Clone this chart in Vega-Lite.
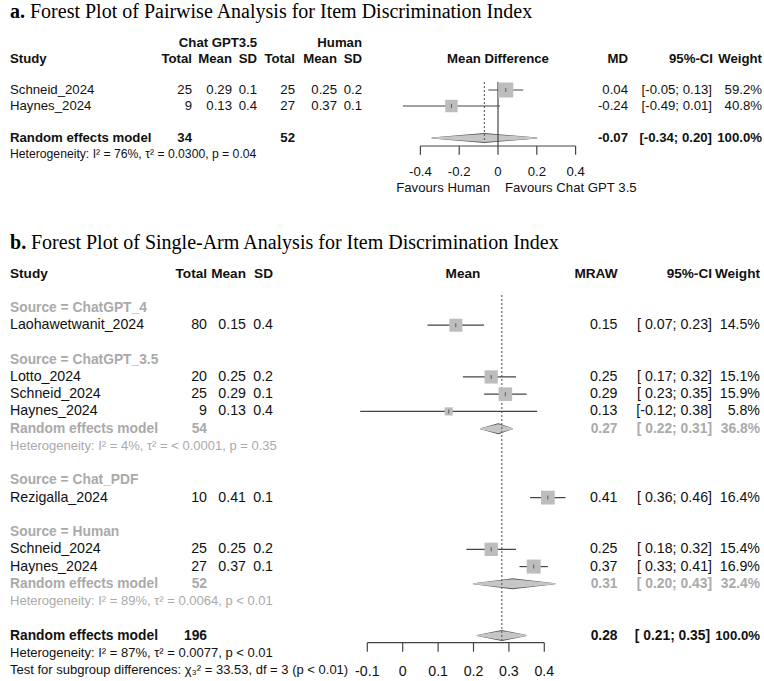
{
"$schema": "https://vega.github.io/schema/vega-lite/v6.json",
"padding": 0,
"spacing": 0,
"bounds": "flush",
"config": {
  "view": {"stroke": null},
  "locale": {"number": {"decimal": ".", "thousands": ",", "grouping": [3], "currency": ["$", ""], "minus": "-"}},
  "text": {"font": "Liberation Sans", "fontSize": 13.2, "baseline": "middle", "color": "#111"}
},
"datasets": {
  "aStudies": [
    {"study": "Schneid_2024", "row": 2, "n1": 25, "m1": 0.29, "s1": 0.1, "n2": 25, "m2": 0.25, "s2": 0.2, "md": 0.04, "lo": -0.05, "hi": 0.13, "w": 59.2},
    {"study": "Haynes_2024", "row": 3, "n1": 9, "m1": 0.13, "s1": 0.4, "n2": 27, "m2": 0.37, "s2": 0.1, "md": -0.24, "lo": -0.49, "hi": 0.01, "w": 40.8}
  ],
  "aRE": [
    {"label": "Random effects model", "row": 5, "n1": 34, "n2": 52, "md": -0.07, "lo": -0.34, "hi": 0.2, "w": 100}
  ],
  "aDiamond": [
    {"d": "all", "row": 5, "x": -0.34, "k": 0},
    {"d": "all", "row": 5, "x": -0.07, "k": 1},
    {"d": "all", "row": 5, "x": 0.2, "k": 0}
  ],
  "aTicks": [{"v": -0.4}, {"v": -0.2}, {"v": 0}, {"v": 0.2}, {"v": 0.4}],
  "bStudies": [
    {"study": "Laohawetwanit_2024", "row": 3, "n": 80, "m": 0.15, "s": 0.4, "lo": 0.07, "hi": 0.23, "w": 14.5},
    {"study": "Lotto_2024", "row": 6, "n": 20, "m": 0.25, "s": 0.2, "lo": 0.17, "hi": 0.32, "w": 15.1},
    {"study": "Schneid_2024", "row": 7, "n": 25, "m": 0.29, "s": 0.1, "lo": 0.23, "hi": 0.35, "w": 15.9},
    {"study": "Haynes_2024", "row": 8, "n": 9, "m": 0.13, "s": 0.4, "lo": -0.12, "hi": 0.38, "w": 5.8},
    {"study": "Rezigalla_2024", "row": 13, "n": 10, "m": 0.41, "s": 0.1, "lo": 0.36, "hi": 0.46, "w": 16.4},
    {"study": "Schneid_2024", "row": 16, "n": 25, "m": 0.25, "s": 0.2, "lo": 0.18, "hi": 0.32, "w": 15.4},
    {"study": "Haynes_2024", "row": 17, "n": 27, "m": 0.37, "s": 0.1, "lo": 0.33, "hi": 0.41, "w": 16.9}
  ],
  "bGroups": [
    {"row": 2, "t": "Source = ChatGPT_4"},
    {"row": 5, "t": "Source = ChatGPT_3.5"},
    {"row": 12, "t": "Source = Chat_PDF"},
    {"row": 15, "t": "Source = Human"}
  ],
  "bSubRE": [
    {"row": 9, "label": "Random effects model", "n": 54, "est": 0.27, "lo": 0.22, "hi": 0.31, "w": 36.8},
    {"row": 18, "label": "Random effects model", "n": 52, "est": 0.31, "lo": 0.2, "hi": 0.43, "w": 32.4}
  ],
  "bSubHet": [
    {"row": 10, "t": "Heterogeneity: I² = 4%, τ² = < 0.0001, p = 0.35"},
    {"row": 19, "t": "Heterogeneity: I² = 89%, τ² = 0.0064, p < 0.01"}
  ],
  "bAll": [
    {"row": 21, "label": "Random effects model", "n": 196, "est": 0.28, "lo": 0.21, "hi": 0.35, "w": 100}
  ],
  "bHet": [
    {"row": 22, "t": "Heterogeneity: I² = 87%, τ² = 0.0077, p < 0.01"},
    {"row": 23, "t": "Test for subgroup differences: χ₃² = 33.53, df = 3 (p < 0.01)"}
  ],
  "bDiamond": [
    {"d": "g35", "row": 9, "x": 0.22, "k": 0},
    {"d": "g35", "row": 9, "x": 0.27, "k": 1},
    {"d": "g35", "row": 9, "x": 0.31, "k": 0},
    {"d": "gh", "row": 18, "x": 0.2, "k": 0},
    {"d": "gh", "row": 18, "x": 0.31, "k": 1},
    {"d": "gh", "row": 18, "x": 0.43, "k": 0},
    {"d": "all", "row": 21, "x": 0.21, "k": 0},
    {"d": "all", "row": 21, "x": 0.28, "k": 1},
    {"d": "all", "row": 21, "x": 0.35, "k": 0}
  ],
  "bTicks": [{"v": -0.1}, {"v": 0}, {"v": 0.1}, {"v": 0.2}, {"v": 0.3}, {"v": 0.4}]
},
"vconcat": [
{
  "width": 764, "height": 200,
  "resolve": {"scale": {"size": "independent"}},
  "layer": [
    {"data": {"values": [{"t": "a."}]}, "mark": {"type": "text", "align": "left", "font": "Liberation Serif", "fontSize": 20, "fontWeight": "bold", "color": "#000"},
     "encoding": {"x": {"datum": -2.5155, "type": "quantitative", "scale": {"domain": [-2.56701, 1.37113], "nice": false, "zero": false}, "axis": null}, "y": {"datum": -2.875, "type": "quantitative", "scale": {"domain": [-3.625, 8.875], "nice": false, "zero": false, "reverse": true}, "axis": null}, "text": {"field": "t"}}},
    {"data": {"values": [{"t": "Forest Plot of Pairwise Analysis for Item Discrimination Index"}]}, "mark": {"type": "text", "align": "left", "font": "Liberation Serif", "fontSize": 20, "color": "#000"},
     "encoding": {"x": {"datum": -2.4124, "type": "quantitative", "scale": {"domain": [-2.56701, 1.37113], "nice": false, "zero": false}, "axis": null}, "y": {"datum": -2.875, "type": "quantitative", "scale": {"domain": [-3.625, 8.875], "nice": false, "zero": false, "reverse": true}, "axis": null}, "text": {"field": "t"}}},
    {"data": {"values": [{"t": "Chat GPT3.5"}]}, "mark": {"type": "text", "align": "center", "fontWeight": "bold"},
     "encoding": {"x": {"datum": -1.4433, "type": "quantitative", "scale": {"domain": [-2.56701, 1.37113], "nice": false, "zero": false}, "axis": null}, "y": {"datum": -0.95, "type": "quantitative", "scale": {"domain": [-3.625, 8.875], "nice": false, "zero": false, "reverse": true}, "axis": null}, "text": {"field": "t"}}},
    {"data": {"values": [{"t": "Human"}]}, "mark": {"type": "text", "align": "right", "fontWeight": "bold"},
     "encoding": {"x": {"datum": -0.701, "type": "quantitative", "scale": {"domain": [-2.56701, 1.37113], "nice": false, "zero": false}, "axis": null}, "y": {"datum": -0.95, "type": "quantitative", "scale": {"domain": [-3.625, 8.875], "nice": false, "zero": false, "reverse": true}, "axis": null}, "text": {"field": "t"}}},
    {"data": {"values": [{"t": "Study"}]}, "mark": {"type": "text", "align": "left", "fontWeight": "bold"},
     "encoding": {"x": {"datum": -2.5155, "type": "quantitative", "scale": {"domain": [-2.56701, 1.37113], "nice": false, "zero": false}, "axis": null}, "y": {"datum": 0.05, "type": "quantitative", "scale": {"domain": [-3.625, 8.875], "nice": false, "zero": false, "reverse": true}, "axis": null}, "text": {"field": "t"}}},
    {"data": {"values": [{"t": "Total"}]}, "mark": {"type": "text", "align": "right", "fontWeight": "bold"},
     "encoding": {"x": {"datum": -1.5773, "type": "quantitative", "scale": {"domain": [-2.56701, 1.37113], "nice": false, "zero": false}, "axis": null}, "y": {"datum": 0.05, "type": "quantitative", "scale": {"domain": [-3.625, 8.875], "nice": false, "zero": false, "reverse": true}, "axis": null}, "text": {"field": "t"}}},
    {"data": {"values": [{"t": "Mean"}]}, "mark": {"type": "text", "align": "right", "fontWeight": "bold"},
     "encoding": {"x": {"datum": -1.3711, "type": "quantitative", "scale": {"domain": [-2.56701, 1.37113], "nice": false, "zero": false}, "axis": null}, "y": {"datum": 0.05, "type": "quantitative", "scale": {"domain": [-3.625, 8.875], "nice": false, "zero": false, "reverse": true}, "axis": null}, "text": {"field": "t"}}},
    {"data": {"values": [{"t": "SD"}]}, "mark": {"type": "text", "align": "right", "fontWeight": "bold"},
     "encoding": {"x": {"datum": -1.2423, "type": "quantitative", "scale": {"domain": [-2.56701, 1.37113], "nice": false, "zero": false}, "axis": null}, "y": {"datum": 0.05, "type": "quantitative", "scale": {"domain": [-3.625, 8.875], "nice": false, "zero": false, "reverse": true}, "axis": null}, "text": {"field": "t"}}},
    {"data": {"values": [{"t": "Total"}]}, "mark": {"type": "text", "align": "right", "fontWeight": "bold"},
     "encoding": {"x": {"datum": -1.0464, "type": "quantitative", "scale": {"domain": [-2.56701, 1.37113], "nice": false, "zero": false}, "axis": null}, "y": {"datum": 0.05, "type": "quantitative", "scale": {"domain": [-3.625, 8.875], "nice": false, "zero": false, "reverse": true}, "axis": null}, "text": {"field": "t"}}},
    {"data": {"values": [{"t": "Mean"}]}, "mark": {"type": "text", "align": "right", "fontWeight": "bold"},
     "encoding": {"x": {"datum": -0.8299, "type": "quantitative", "scale": {"domain": [-2.56701, 1.37113], "nice": false, "zero": false}, "axis": null}, "y": {"datum": 0.05, "type": "quantitative", "scale": {"domain": [-3.625, 8.875], "nice": false, "zero": false, "reverse": true}, "axis": null}, "text": {"field": "t"}}},
    {"data": {"values": [{"t": "SD"}]}, "mark": {"type": "text", "align": "right", "fontWeight": "bold"},
     "encoding": {"x": {"datum": -0.701, "type": "quantitative", "scale": {"domain": [-2.56701, 1.37113], "nice": false, "zero": false}, "axis": null}, "y": {"datum": 0.05, "type": "quantitative", "scale": {"domain": [-3.625, 8.875], "nice": false, "zero": false, "reverse": true}, "axis": null}, "text": {"field": "t"}}},
    {"data": {"values": [{"t": "Mean Difference"}]}, "mark": {"type": "text", "align": "center", "fontWeight": "bold"},
     "encoding": {"x": {"datum": 0, "type": "quantitative", "scale": {"domain": [-2.56701, 1.37113], "nice": false, "zero": false}, "axis": null}, "y": {"datum": 0.05, "type": "quantitative", "scale": {"domain": [-3.625, 8.875], "nice": false, "zero": false, "reverse": true}, "axis": null}, "text": {"field": "t"}}},
    {"data": {"values": [{"t": "MD"}]}, "mark": {"type": "text", "align": "right", "fontWeight": "bold"},
     "encoding": {"x": {"datum": 0.6701, "type": "quantitative", "scale": {"domain": [-2.56701, 1.37113], "nice": false, "zero": false}, "axis": null}, "y": {"datum": 0.05, "type": "quantitative", "scale": {"domain": [-3.625, 8.875], "nice": false, "zero": false, "reverse": true}, "axis": null}, "text": {"field": "t"}}},
    {"data": {"values": [{"t": "95%-CI"}]}, "mark": {"type": "text", "align": "right", "fontWeight": "bold"},
     "encoding": {"x": {"datum": 1.1082, "type": "quantitative", "scale": {"domain": [-2.56701, 1.37113], "nice": false, "zero": false}, "axis": null}, "y": {"datum": 0.05, "type": "quantitative", "scale": {"domain": [-3.625, 8.875], "nice": false, "zero": false, "reverse": true}, "axis": null}, "text": {"field": "t"}}},
    {"data": {"values": [{"t": "Weight"}]}, "mark": {"type": "text", "align": "right", "fontWeight": "bold"},
     "encoding": {"x": {"datum": 1.3608, "type": "quantitative", "scale": {"domain": [-2.56701, 1.37113], "nice": false, "zero": false}, "axis": null}, "y": {"datum": 0.05, "type": "quantitative", "scale": {"domain": [-3.625, 8.875], "nice": false, "zero": false, "reverse": true}, "axis": null}, "text": {"field": "t"}}},

    {"data": {"name": "aDiamond"}, "mark": {"type": "trail", "color": "#555"},
     "encoding": {"x": {"field": "x", "type": "quantitative", "scale": {"domain": [-2.56701, 1.37113], "nice": false, "zero": false}, "axis": null}, "y": {"field": "row", "type": "quantitative", "scale": {"domain": [-3.625, 8.875], "nice": false, "zero": false, "reverse": true}, "axis": null}, "size": {"field": "k", "type": "quantitative", "scale": {"domain": [0, 1], "range": [0, 10]}, "legend": null}, "detail": {"field": "d"}, "order": {"field": "x"}}},
    {"data": {"name": "aDiamond"}, "mark": {"type": "trail", "color": "#c6c6c6"},
     "encoding": {"x": {"field": "x", "type": "quantitative", "scale": {"domain": [-2.56701, 1.37113], "nice": false, "zero": false}, "axis": null}, "y": {"field": "row", "type": "quantitative", "scale": {"domain": [-3.625, 8.875], "nice": false, "zero": false, "reverse": true}, "axis": null}, "size": {"field": "k", "type": "quantitative", "scale": {"domain": [0, 1], "range": [0, 8]}, "legend": null}, "detail": {"field": "d"}, "order": {"field": "x"}}},
    {"data": {"name": "aTicks"}, "transform": [{"filter": "datum.v == 0"}], "mark": {"type": "rule", "color": "#444", "strokeWidth": 1.2},
     "encoding": {"x": {"field": "v", "type": "quantitative", "scale": {"domain": [-2.56701, 1.37113], "nice": false, "zero": false}, "axis": null}, "y": {"datum": 1.5, "type": "quantitative", "scale": {"domain": [-3.625, 8.875], "nice": false, "zero": false, "reverse": true}, "axis": null}, "y2": {"datum": 5.5}}},
    {"data": {"name": "aRE"}, "mark": {"type": "rule", "color": "#666", "strokeWidth": 1.2, "strokeDash": [2, 2]},
     "encoding": {"x": {"field": "md", "type": "quantitative", "scale": {"domain": [-2.56701, 1.37113], "nice": false, "zero": false}, "axis": null}, "y": {"datum": 1.5, "type": "quantitative", "scale": {"domain": [-3.625, 8.875], "nice": false, "zero": false, "reverse": true}, "axis": null}, "y2": {"datum": 5.3}}},
    {"data": {"name": "aStudies"}, "mark": {"type": "rule", "color": "#444", "strokeWidth": 1.2},
     "encoding": {"x": {"field": "lo", "type": "quantitative", "scale": {"domain": [-2.56701, 1.37113], "nice": false, "zero": false}, "axis": null}, "x2": {"field": "hi"}, "y": {"field": "row", "type": "quantitative", "scale": {"domain": [-3.625, 8.875], "nice": false, "zero": false, "reverse": true}, "axis": null}}},
    {"data": {"name": "aStudies"}, "mark": {"type": "point", "shape": "square", "filled": true, "color": "#bdbdbd", "opacity": 1, "strokeWidth": 0},
     "encoding": {"x": {"field": "md", "type": "quantitative", "scale": {"domain": [-2.56701, 1.37113], "nice": false, "zero": false}, "axis": null}, "y": {"field": "row", "type": "quantitative", "scale": {"domain": [-3.625, 8.875], "nice": false, "zero": false, "reverse": true}, "axis": null}, "size": {"field": "w", "type": "quantitative", "scale": {"domain": [0, 100], "range": [0, 380]}, "legend": null}}},
    {"data": {"name": "aStudies"}, "mark": {"type": "tick", "orient": "vertical", "size": 4, "thickness": 1, "color": "#333"},
     "encoding": {"x": {"field": "md", "type": "quantitative", "scale": {"domain": [-2.56701, 1.37113], "nice": false, "zero": false}, "axis": null}, "y": {"field": "row", "type": "quantitative", "scale": {"domain": [-3.625, 8.875], "nice": false, "zero": false, "reverse": true}, "axis": null}}},
    {"data": {"values": [{"a": -0.4, "b": 0.4}]}, "mark": {"type": "rule", "color": "#444", "strokeWidth": 1.2},
     "encoding": {"x": {"field": "a", "type": "quantitative", "scale": {"domain": [-2.56701, 1.37113], "nice": false, "zero": false}, "axis": null}, "x2": {"field": "b"}, "y": {"datum": 5.5, "type": "quantitative", "scale": {"domain": [-3.625, 8.875], "nice": false, "zero": false, "reverse": true}, "axis": null}}},
    {"data": {"name": "aTicks"}, "mark": {"type": "rule", "color": "#444", "strokeWidth": 1.2},
     "encoding": {"x": {"field": "v", "type": "quantitative", "scale": {"domain": [-2.56701, 1.37113], "nice": false, "zero": false}, "axis": null}, "y": {"datum": 5.5, "type": "quantitative", "scale": {"domain": [-3.625, 8.875], "nice": false, "zero": false, "reverse": true}, "axis": null}, "y2": {"datum": 6.05}}},
    {"data": {"name": "aTicks"}, "mark": {"type": "text", "align": "center"},
     "encoding": {"x": {"field": "v", "type": "quantitative", "scale": {"domain": [-2.56701, 1.37113], "nice": false, "zero": false}, "axis": null}, "y": {"datum": 7.125, "type": "quantitative", "scale": {"domain": [-3.625, 8.875], "nice": false, "zero": false, "reverse": true}, "axis": null}, "text": {"field": "v", "type": "nominal"}}},
    {"data": {"values": [{"t": "Favours Human"}]}, "mark": {"type": "text", "align": "right"},
     "encoding": {"x": {"datum": -0.041, "type": "quantitative", "scale": {"domain": [-2.56701, 1.37113], "nice": false, "zero": false}, "axis": null}, "y": {"datum": 8.125, "type": "quantitative", "scale": {"domain": [-3.625, 8.875], "nice": false, "zero": false, "reverse": true}, "axis": null}, "text": {"field": "t"}}},
    {"data": {"values": [{"t": "Favours Chat GPT 3.5"}]}, "mark": {"type": "text", "align": "left"},
     "encoding": {"x": {"datum": 0.036, "type": "quantitative", "scale": {"domain": [-2.56701, 1.37113], "nice": false, "zero": false}, "axis": null}, "y": {"datum": 8.125, "type": "quantitative", "scale": {"domain": [-3.625, 8.875], "nice": false, "zero": false, "reverse": true}, "axis": null}, "text": {"field": "t"}}},

    {"data": {"name": "aStudies"}, "mark": {"type": "text", "align": "left"},
     "encoding": {"x": {"datum": -2.5155, "type": "quantitative", "scale": {"domain": [-2.56701, 1.37113], "nice": false, "zero": false}, "axis": null}, "y": {"field": "row", "type": "quantitative", "scale": {"domain": [-3.625, 8.875], "nice": false, "zero": false, "reverse": true}, "axis": null}, "text": {"field": "study"}}},
    {"data": {"name": "aStudies"}, "mark": {"type": "text", "align": "right"},
     "encoding": {"x": {"datum": -1.5773, "type": "quantitative", "scale": {"domain": [-2.56701, 1.37113], "nice": false, "zero": false}, "axis": null}, "y": {"field": "row", "type": "quantitative", "scale": {"domain": [-3.625, 8.875], "nice": false, "zero": false, "reverse": true}, "axis": null}, "text": {"field": "n1", "type": "nominal"}}},
    {"data": {"name": "aStudies"}, "mark": {"type": "text", "align": "right"},
     "encoding": {"x": {"datum": -1.3711, "type": "quantitative", "scale": {"domain": [-2.56701, 1.37113], "nice": false, "zero": false}, "axis": null}, "y": {"field": "row", "type": "quantitative", "scale": {"domain": [-3.625, 8.875], "nice": false, "zero": false, "reverse": true}, "axis": null}, "text": {"field": "m1", "type": "nominal"}}},
    {"data": {"name": "aStudies"}, "mark": {"type": "text", "align": "right"},
     "encoding": {"x": {"datum": -1.2423, "type": "quantitative", "scale": {"domain": [-2.56701, 1.37113], "nice": false, "zero": false}, "axis": null}, "y": {"field": "row", "type": "quantitative", "scale": {"domain": [-3.625, 8.875], "nice": false, "zero": false, "reverse": true}, "axis": null}, "text": {"field": "s1", "type": "nominal"}}},
    {"data": {"name": "aStudies"}, "mark": {"type": "text", "align": "right"},
     "encoding": {"x": {"datum": -1.0464, "type": "quantitative", "scale": {"domain": [-2.56701, 1.37113], "nice": false, "zero": false}, "axis": null}, "y": {"field": "row", "type": "quantitative", "scale": {"domain": [-3.625, 8.875], "nice": false, "zero": false, "reverse": true}, "axis": null}, "text": {"field": "n2", "type": "nominal"}}},
    {"data": {"name": "aStudies"}, "mark": {"type": "text", "align": "right"},
     "encoding": {"x": {"datum": -0.8299, "type": "quantitative", "scale": {"domain": [-2.56701, 1.37113], "nice": false, "zero": false}, "axis": null}, "y": {"field": "row", "type": "quantitative", "scale": {"domain": [-3.625, 8.875], "nice": false, "zero": false, "reverse": true}, "axis": null}, "text": {"field": "m2", "type": "nominal"}}},
    {"data": {"name": "aStudies"}, "mark": {"type": "text", "align": "right"},
     "encoding": {"x": {"datum": -0.701, "type": "quantitative", "scale": {"domain": [-2.56701, 1.37113], "nice": false, "zero": false}, "axis": null}, "y": {"field": "row", "type": "quantitative", "scale": {"domain": [-3.625, 8.875], "nice": false, "zero": false, "reverse": true}, "axis": null}, "text": {"field": "s2", "type": "nominal"}}},
    {"data": {"name": "aStudies"}, "mark": {"type": "text", "align": "right"},
     "encoding": {"x": {"datum": 0.6701, "type": "quantitative", "scale": {"domain": [-2.56701, 1.37113], "nice": false, "zero": false}, "axis": null}, "y": {"field": "row", "type": "quantitative", "scale": {"domain": [-3.625, 8.875], "nice": false, "zero": false, "reverse": true}, "axis": null}, "text": {"field": "md", "type": "quantitative", "format": ".2f"}}},
    {"data": {"name": "aStudies"}, "transform": [{"calculate": "'[' + format(datum.lo, ' .2f') + '; ' + format(datum.hi, '.2f') + ']'", "as": "ci"}], "mark": {"type": "text", "align": "right"},
     "encoding": {"x": {"datum": 1.1031, "type": "quantitative", "scale": {"domain": [-2.56701, 1.37113], "nice": false, "zero": false}, "axis": null}, "y": {"field": "row", "type": "quantitative", "scale": {"domain": [-3.625, 8.875], "nice": false, "zero": false, "reverse": true}, "axis": null}, "text": {"field": "ci"}}},
    {"data": {"name": "aStudies"}, "transform": [{"calculate": "format(datum.w, '.1f') + '%'", "as": "wl"}], "mark": {"type": "text", "align": "right"},
     "encoding": {"x": {"datum": 1.3608, "type": "quantitative", "scale": {"domain": [-2.56701, 1.37113], "nice": false, "zero": false}, "axis": null}, "y": {"field": "row", "type": "quantitative", "scale": {"domain": [-3.625, 8.875], "nice": false, "zero": false, "reverse": true}, "axis": null}, "text": {"field": "wl"}}},

    {"data": {"name": "aRE"}, "mark": {"type": "text", "align": "left", "fontWeight": "bold"},
     "encoding": {"x": {"datum": -2.5155, "type": "quantitative", "scale": {"domain": [-2.56701, 1.37113], "nice": false, "zero": false}, "axis": null}, "y": {"field": "row", "type": "quantitative", "scale": {"domain": [-3.625, 8.875], "nice": false, "zero": false, "reverse": true}, "axis": null}, "text": {"field": "label"}}},
    {"data": {"name": "aRE"}, "mark": {"type": "text", "align": "right", "fontWeight": "bold"},
     "encoding": {"x": {"datum": -1.5773, "type": "quantitative", "scale": {"domain": [-2.56701, 1.37113], "nice": false, "zero": false}, "axis": null}, "y": {"field": "row", "type": "quantitative", "scale": {"domain": [-3.625, 8.875], "nice": false, "zero": false, "reverse": true}, "axis": null}, "text": {"field": "n1", "type": "nominal"}}},
    {"data": {"name": "aRE"}, "mark": {"type": "text", "align": "right", "fontWeight": "bold"},
     "encoding": {"x": {"datum": -1.0464, "type": "quantitative", "scale": {"domain": [-2.56701, 1.37113], "nice": false, "zero": false}, "axis": null}, "y": {"field": "row", "type": "quantitative", "scale": {"domain": [-3.625, 8.875], "nice": false, "zero": false, "reverse": true}, "axis": null}, "text": {"field": "n2", "type": "nominal"}}},
    {"data": {"name": "aRE"}, "mark": {"type": "text", "align": "right", "fontWeight": "bold"},
     "encoding": {"x": {"datum": 0.6701, "type": "quantitative", "scale": {"domain": [-2.56701, 1.37113], "nice": false, "zero": false}, "axis": null}, "y": {"field": "row", "type": "quantitative", "scale": {"domain": [-3.625, 8.875], "nice": false, "zero": false, "reverse": true}, "axis": null}, "text": {"field": "md", "type": "quantitative", "format": ".2f"}}},
    {"data": {"name": "aRE"}, "transform": [{"calculate": "'[' + format(datum.lo, ' .2f') + '; ' + format(datum.hi, '.2f') + ']'", "as": "ci"}], "mark": {"type": "text", "align": "right", "fontWeight": "bold"},
     "encoding": {"x": {"datum": 1.1031, "type": "quantitative", "scale": {"domain": [-2.56701, 1.37113], "nice": false, "zero": false}, "axis": null}, "y": {"field": "row", "type": "quantitative", "scale": {"domain": [-3.625, 8.875], "nice": false, "zero": false, "reverse": true}, "axis": null}, "text": {"field": "ci"}}},
    {"data": {"name": "aRE"}, "transform": [{"calculate": "format(datum.w, '.1f') + '%'", "as": "wl"}], "mark": {"type": "text", "align": "right", "fontWeight": "bold"},
     "encoding": {"x": {"datum": 1.3608, "type": "quantitative", "scale": {"domain": [-2.56701, 1.37113], "nice": false, "zero": false}, "axis": null}, "y": {"field": "row", "type": "quantitative", "scale": {"domain": [-3.625, 8.875], "nice": false, "zero": false, "reverse": true}, "axis": null}, "text": {"field": "wl"}}},
    {"data": {"values": [{"t": "Heterogeneity: I² = 76%, τ² = 0.0300, p = 0.04"}]}, "mark": {"type": "text", "align": "left", "fontSize": 12.2},
     "encoding": {"x": {"datum": -2.5155, "type": "quantitative", "scale": {"domain": [-2.56701, 1.37113], "nice": false, "zero": false}, "axis": null}, "y": {"datum": 6, "type": "quantitative", "scale": {"domain": [-3.625, 8.875], "nice": false, "zero": false, "reverse": true}, "axis": null}, "text": {"field": "t"}}}
  ]
},
{
  "width": 764, "height": 481,
  "resolve": {"scale": {"size": "independent"}},
  "layer": [
    {"data": {"values": [{"t": "b."}]}, "mark": {"type": "text", "align": "left", "font": "Liberation Serif", "fontSize": 20, "fontWeight": "bold", "color": "#000"},
     "encoding": {"x": {"datum": -1.1093, "type": "quantitative", "scale": {"domain": [-1.13757, 1.02062], "nice": false, "zero": false}, "axis": null}, "y": {"datum": -1.77, "type": "quantitative", "scale": {"domain": [-4.2633, 23.6369], "nice": false, "zero": false, "reverse": true}, "axis": null}, "text": {"field": "t"}}},
    {"data": {"values": [{"t": "Forest Plot of Single-Arm Analysis for Item Discrimination Index"}]}, "mark": {"type": "text", "align": "left", "font": "Liberation Serif", "fontSize": 20, "color": "#000"},
     "encoding": {"x": {"datum": -1.05, "type": "quantitative", "scale": {"domain": [-1.13757, 1.02062], "nice": false, "zero": false}, "axis": null}, "y": {"datum": -1.77, "type": "quantitative", "scale": {"domain": [-4.2633, 23.6369], "nice": false, "zero": false, "reverse": true}, "axis": null}, "text": {"field": "t"}}},
    {"data": {"values": [{"t": "Study"}]}, "mark": {"type": "text", "align": "left", "fontWeight": "bold", "fontSize": 13.6},
     "encoding": {"x": {"datum": -1.1093, "type": "quantitative", "scale": {"domain": [-1.13757, 1.02062], "nice": false, "zero": false}, "axis": null}, "y": {"datum": 0.05, "type": "quantitative", "scale": {"domain": [-4.2633, 23.6369], "nice": false, "zero": false, "reverse": true}, "axis": null}, "text": {"field": "t"}}},
    {"data": {"values": [{"t": "Total"}]}, "mark": {"type": "text", "align": "right", "fontWeight": "bold", "fontSize": 13.6},
     "encoding": {"x": {"datum": -0.5528, "type": "quantitative", "scale": {"domain": [-1.13757, 1.02062], "nice": false, "zero": false}, "axis": null}, "y": {"datum": 0.05, "type": "quantitative", "scale": {"domain": [-4.2633, 23.6369], "nice": false, "zero": false, "reverse": true}, "axis": null}, "text": {"field": "t"}}},
    {"data": {"values": [{"t": "Mean"}]}, "mark": {"type": "text", "align": "right", "fontWeight": "bold", "fontSize": 13.6},
     "encoding": {"x": {"datum": -0.4427, "type": "quantitative", "scale": {"domain": [-1.13757, 1.02062], "nice": false, "zero": false}, "axis": null}, "y": {"datum": 0.05, "type": "quantitative", "scale": {"domain": [-4.2633, 23.6369], "nice": false, "zero": false, "reverse": true}, "axis": null}, "text": {"field": "t"}}},
    {"data": {"values": [{"t": "SD"}]}, "mark": {"type": "text", "align": "right", "fontWeight": "bold", "fontSize": 13.6},
     "encoding": {"x": {"datum": -0.3664, "type": "quantitative", "scale": {"domain": [-1.13757, 1.02062], "nice": false, "zero": false}, "axis": null}, "y": {"datum": 0.05, "type": "quantitative", "scale": {"domain": [-4.2633, 23.6369], "nice": false, "zero": false, "reverse": true}, "axis": null}, "text": {"field": "t"}}},
    {"data": {"values": [{"t": "Mean"}]}, "mark": {"type": "text", "align": "center", "fontWeight": "bold", "fontSize": 13.6},
     "encoding": {"x": {"datum": 0.1703, "type": "quantitative", "scale": {"domain": [-1.13757, 1.02062], "nice": false, "zero": false}, "axis": null}, "y": {"datum": 0.05, "type": "quantitative", "scale": {"domain": [-4.2633, 23.6369], "nice": false, "zero": false, "reverse": true}, "axis": null}, "text": {"field": "t"}}},
    {"data": {"values": [{"t": "MRAW"}]}, "mark": {"type": "text", "align": "right", "fontWeight": "bold", "fontSize": 13.6},
     "encoding": {"x": {"datum": 0.6068, "type": "quantitative", "scale": {"domain": [-1.13757, 1.02062], "nice": false, "zero": false}, "axis": null}, "y": {"datum": 0.05, "type": "quantitative", "scale": {"domain": [-4.2633, 23.6369], "nice": false, "zero": false, "reverse": true}, "axis": null}, "text": {"field": "t"}}},
    {"data": {"values": [{"t": "95%-CI"}]}, "mark": {"type": "text", "align": "right", "fontWeight": "bold", "fontSize": 13.6},
     "encoding": {"x": {"datum": 0.8737, "type": "quantitative", "scale": {"domain": [-1.13757, 1.02062], "nice": false, "zero": false}, "axis": null}, "y": {"datum": 0.05, "type": "quantitative", "scale": {"domain": [-4.2633, 23.6369], "nice": false, "zero": false, "reverse": true}, "axis": null}, "text": {"field": "t"}}},
    {"data": {"values": [{"t": "Weight"}]}, "mark": {"type": "text", "align": "right", "fontWeight": "bold", "fontSize": 13.6},
     "encoding": {"x": {"datum": 1.0093, "type": "quantitative", "scale": {"domain": [-1.13757, 1.02062], "nice": false, "zero": false}, "axis": null}, "y": {"datum": 0.05, "type": "quantitative", "scale": {"domain": [-4.2633, 23.6369], "nice": false, "zero": false, "reverse": true}, "axis": null}, "text": {"field": "t"}}},

    {"data": {"name": "bDiamond"}, "mark": {"type": "trail", "color": "#555"},
     "encoding": {"x": {"field": "x", "type": "quantitative", "scale": {"domain": [-1.13757, 1.02062], "nice": false, "zero": false}, "axis": null}, "y": {"field": "row", "type": "quantitative", "scale": {"domain": [-4.2633, 23.6369], "nice": false, "zero": false, "reverse": true}, "axis": null}, "size": {"field": "k", "type": "quantitative", "scale": {"domain": [0, 1], "range": [0, 11]}, "legend": null}, "detail": {"field": "d"}, "order": {"field": "x"}}},
    {"data": {"name": "bDiamond"}, "mark": {"type": "trail", "color": "#c6c6c6"},
     "encoding": {"x": {"field": "x", "type": "quantitative", "scale": {"domain": [-1.13757, 1.02062], "nice": false, "zero": false}, "axis": null}, "y": {"field": "row", "type": "quantitative", "scale": {"domain": [-4.2633, 23.6369], "nice": false, "zero": false, "reverse": true}, "axis": null}, "size": {"field": "k", "type": "quantitative", "scale": {"domain": [0, 1], "range": [0, 9]}, "legend": null}, "detail": {"field": "d"}, "order": {"field": "x"}}},
    {"data": {"name": "bAll"}, "mark": {"type": "rule", "color": "#666", "strokeWidth": 1.2, "strokeDash": [2, 2]},
     "encoding": {"x": {"field": "est", "type": "quantitative", "scale": {"domain": [-1.13757, 1.02062], "nice": false, "zero": false}, "axis": null}, "y": {"datum": 1.25, "type": "quantitative", "scale": {"domain": [-4.2633, 23.6369], "nice": false, "zero": false, "reverse": true}, "axis": null}, "y2": {"datum": 21.3}}},
    {"data": {"name": "bStudies"}, "mark": {"type": "rule", "color": "#444", "strokeWidth": 1.2},
     "encoding": {"x": {"field": "lo", "type": "quantitative", "scale": {"domain": [-1.13757, 1.02062], "nice": false, "zero": false}, "axis": null}, "x2": {"field": "hi"}, "y": {"field": "row", "type": "quantitative", "scale": {"domain": [-4.2633, 23.6369], "nice": false, "zero": false, "reverse": true}, "axis": null}}},
    {"data": {"name": "bStudies"}, "mark": {"type": "point", "shape": "square", "filled": true, "color": "#bdbdbd", "opacity": 1, "strokeWidth": 0},
     "encoding": {"x": {"field": "m", "type": "quantitative", "scale": {"domain": [-1.13757, 1.02062], "nice": false, "zero": false}, "axis": null}, "y": {"field": "row", "type": "quantitative", "scale": {"domain": [-4.2633, 23.6369], "nice": false, "zero": false, "reverse": true}, "axis": null}, "size": {"field": "w", "type": "quantitative", "scale": {"domain": [0, 100], "range": [0, 1160]}, "legend": null}}},
    {"data": {"name": "bStudies"}, "mark": {"type": "tick", "orient": "vertical", "size": 4, "thickness": 1, "color": "#333"},
     "encoding": {"x": {"field": "m", "type": "quantitative", "scale": {"domain": [-1.13757, 1.02062], "nice": false, "zero": false}, "axis": null}, "y": {"field": "row", "type": "quantitative", "scale": {"domain": [-4.2633, 23.6369], "nice": false, "zero": false, "reverse": true}, "axis": null}}},
    {"data": {"values": [{"a": -0.1, "b": 0.4}]}, "mark": {"type": "rule", "color": "#444", "strokeWidth": 1.2},
     "encoding": {"x": {"field": "a", "type": "quantitative", "scale": {"domain": [-1.13757, 1.02062], "nice": false, "zero": false}, "axis": null}, "x2": {"field": "b"}, "y": {"datum": 21.415, "type": "quantitative", "scale": {"domain": [-4.2633, 23.6369], "nice": false, "zero": false, "reverse": true}, "axis": null}}},
    {"data": {"name": "bTicks"}, "mark": {"type": "rule", "color": "#444", "strokeWidth": 1.2},
     "encoding": {"x": {"field": "v", "type": "quantitative", "scale": {"domain": [-1.13757, 1.02062], "nice": false, "zero": false}, "axis": null}, "y": {"datum": 21.415, "type": "quantitative", "scale": {"domain": [-4.2633, 23.6369], "nice": false, "zero": false, "reverse": true}, "axis": null}, "y2": {"datum": 21.94}}},
    {"data": {"name": "bTicks"}, "mark": {"type": "text", "align": "center", "fontSize": 14.2},
     "encoding": {"x": {"field": "v", "type": "quantitative", "scale": {"domain": [-1.13757, 1.02062], "nice": false, "zero": false}, "axis": null}, "y": {"datum": 23.1, "type": "quantitative", "scale": {"domain": [-4.2633, 23.6369], "nice": false, "zero": false, "reverse": true}, "axis": null}, "text": {"field": "v", "type": "nominal"}}},

    {"data": {"name": "bGroups"}, "mark": {"type": "text", "align": "left", "fontWeight": "bold", "fontSize": 13.8, "color": "#aaaaaa"},
     "encoding": {"x": {"datum": -1.1093, "type": "quantitative", "scale": {"domain": [-1.13757, 1.02062], "nice": false, "zero": false}, "axis": null}, "y": {"field": "row", "type": "quantitative", "scale": {"domain": [-4.2633, 23.6369], "nice": false, "zero": false, "reverse": true}, "axis": null}, "text": {"field": "t"}}},

    {"data": {"name": "bStudies"}, "mark": {"type": "text", "align": "left", "fontSize": 14.2},
     "encoding": {"x": {"datum": -1.1093, "type": "quantitative", "scale": {"domain": [-1.13757, 1.02062], "nice": false, "zero": false}, "axis": null}, "y": {"field": "row", "type": "quantitative", "scale": {"domain": [-4.2633, 23.6369], "nice": false, "zero": false, "reverse": true}, "axis": null}, "text": {"field": "study"}}},
    {"data": {"name": "bStudies"}, "mark": {"type": "text", "align": "right", "fontSize": 14.2},
     "encoding": {"x": {"datum": -0.5528, "type": "quantitative", "scale": {"domain": [-1.13757, 1.02062], "nice": false, "zero": false}, "axis": null}, "y": {"field": "row", "type": "quantitative", "scale": {"domain": [-4.2633, 23.6369], "nice": false, "zero": false, "reverse": true}, "axis": null}, "text": {"field": "n", "type": "nominal"}}},
    {"data": {"name": "bStudies"}, "mark": {"type": "text", "align": "right", "fontSize": 14.2},
     "encoding": {"x": {"datum": -0.4427, "type": "quantitative", "scale": {"domain": [-1.13757, 1.02062], "nice": false, "zero": false}, "axis": null}, "y": {"field": "row", "type": "quantitative", "scale": {"domain": [-4.2633, 23.6369], "nice": false, "zero": false, "reverse": true}, "axis": null}, "text": {"field": "m", "type": "nominal"}}},
    {"data": {"name": "bStudies"}, "mark": {"type": "text", "align": "right", "fontSize": 14.2},
     "encoding": {"x": {"datum": -0.3664, "type": "quantitative", "scale": {"domain": [-1.13757, 1.02062], "nice": false, "zero": false}, "axis": null}, "y": {"field": "row", "type": "quantitative", "scale": {"domain": [-4.2633, 23.6369], "nice": false, "zero": false, "reverse": true}, "axis": null}, "text": {"field": "s", "type": "nominal"}}},
    {"data": {"name": "bStudies"}, "mark": {"type": "text", "align": "right", "fontSize": 14.2},
     "encoding": {"x": {"datum": 0.6068, "type": "quantitative", "scale": {"domain": [-1.13757, 1.02062], "nice": false, "zero": false}, "axis": null}, "y": {"field": "row", "type": "quantitative", "scale": {"domain": [-4.2633, 23.6369], "nice": false, "zero": false, "reverse": true}, "axis": null}, "text": {"field": "m", "type": "quantitative", "format": ".2f"}}},
    {"data": {"name": "bStudies"}, "transform": [{"calculate": "'[' + format(datum.lo, ' .2f') + '; ' + format(datum.hi, '.2f') + ']'", "as": "ci"}], "mark": {"type": "text", "align": "right", "fontSize": 14.2},
     "encoding": {"x": {"datum": 0.8737, "type": "quantitative", "scale": {"domain": [-1.13757, 1.02062], "nice": false, "zero": false}, "axis": null}, "y": {"field": "row", "type": "quantitative", "scale": {"domain": [-4.2633, 23.6369], "nice": false, "zero": false, "reverse": true}, "axis": null}, "text": {"field": "ci"}}},
    {"data": {"name": "bStudies"}, "transform": [{"calculate": "format(datum.w, '.1f') + '%'", "as": "wl"}], "mark": {"type": "text", "align": "right", "fontSize": 14.2},
     "encoding": {"x": {"datum": 1.0093, "type": "quantitative", "scale": {"domain": [-1.13757, 1.02062], "nice": false, "zero": false}, "axis": null}, "y": {"field": "row", "type": "quantitative", "scale": {"domain": [-4.2633, 23.6369], "nice": false, "zero": false, "reverse": true}, "axis": null}, "text": {"field": "wl"}}},

    {"data": {"name": "bSubRE"}, "mark": {"type": "text", "align": "left", "fontSize": 13.8, "fontWeight": "bold", "color": "#aaaaaa"},
     "encoding": {"x": {"datum": -1.1093, "type": "quantitative", "scale": {"domain": [-1.13757, 1.02062], "nice": false, "zero": false}, "axis": null}, "y": {"field": "row", "type": "quantitative", "scale": {"domain": [-4.2633, 23.6369], "nice": false, "zero": false, "reverse": true}, "axis": null}, "text": {"field": "label"}}},
    {"data": {"name": "bSubRE"}, "mark": {"type": "text", "align": "right", "fontSize": 13.8, "fontWeight": "bold", "color": "#aaaaaa"},
     "encoding": {"x": {"datum": -0.5528, "type": "quantitative", "scale": {"domain": [-1.13757, 1.02062], "nice": false, "zero": false}, "axis": null}, "y": {"field": "row", "type": "quantitative", "scale": {"domain": [-4.2633, 23.6369], "nice": false, "zero": false, "reverse": true}, "axis": null}, "text": {"field": "n", "type": "nominal"}}},
    {"data": {"name": "bSubRE"}, "mark": {"type": "text", "align": "right", "fontSize": 13.8, "fontWeight": "bold", "color": "#aaaaaa"},
     "encoding": {"x": {"datum": 0.6068, "type": "quantitative", "scale": {"domain": [-1.13757, 1.02062], "nice": false, "zero": false}, "axis": null}, "y": {"field": "row", "type": "quantitative", "scale": {"domain": [-4.2633, 23.6369], "nice": false, "zero": false, "reverse": true}, "axis": null}, "text": {"field": "est", "type": "quantitative", "format": ".2f"}}},
    {"data": {"name": "bSubRE"}, "transform": [{"calculate": "'[' + format(datum.lo, ' .2f') + '; ' + format(datum.hi, '.2f') + ']'", "as": "ci"}], "mark": {"type": "text", "align": "right", "fontSize": 13.8, "fontWeight": "bold", "color": "#aaaaaa"},
     "encoding": {"x": {"datum": 0.8737, "type": "quantitative", "scale": {"domain": [-1.13757, 1.02062], "nice": false, "zero": false}, "axis": null}, "y": {"field": "row", "type": "quantitative", "scale": {"domain": [-4.2633, 23.6369], "nice": false, "zero": false, "reverse": true}, "axis": null}, "text": {"field": "ci"}}},
    {"data": {"name": "bSubRE"}, "transform": [{"calculate": "format(datum.w, '.1f') + '%'", "as": "wl"}], "mark": {"type": "text", "align": "right", "fontSize": 13.8, "fontWeight": "bold", "color": "#aaaaaa"},
     "encoding": {"x": {"datum": 1.0093, "type": "quantitative", "scale": {"domain": [-1.13757, 1.02062], "nice": false, "zero": false}, "axis": null}, "y": {"field": "row", "type": "quantitative", "scale": {"domain": [-4.2633, 23.6369], "nice": false, "zero": false, "reverse": true}, "axis": null}, "text": {"field": "wl"}}},
    {"data": {"name": "bSubHet"}, "mark": {"type": "text", "align": "left", "fontSize": 13, "color": "#aaaaaa"},
     "encoding": {"x": {"datum": -1.1093, "type": "quantitative", "scale": {"domain": [-1.13757, 1.02062], "nice": false, "zero": false}, "axis": null}, "y": {"field": "row", "type": "quantitative", "scale": {"domain": [-4.2633, 23.6369], "nice": false, "zero": false, "reverse": true}, "axis": null}, "text": {"field": "t"}}},

    {"data": {"name": "bAll"}, "mark": {"type": "text", "align": "left", "fontSize": 13.8, "fontWeight": "bold"},
     "encoding": {"x": {"datum": -1.1093, "type": "quantitative", "scale": {"domain": [-1.13757, 1.02062], "nice": false, "zero": false}, "axis": null}, "y": {"field": "row", "type": "quantitative", "scale": {"domain": [-4.2633, 23.6369], "nice": false, "zero": false, "reverse": true}, "axis": null}, "text": {"field": "label"}}},
    {"data": {"name": "bAll"}, "mark": {"type": "text", "align": "right", "fontSize": 13.8, "fontWeight": "bold"},
     "encoding": {"x": {"datum": -0.5528, "type": "quantitative", "scale": {"domain": [-1.13757, 1.02062], "nice": false, "zero": false}, "axis": null}, "y": {"field": "row", "type": "quantitative", "scale": {"domain": [-4.2633, 23.6369], "nice": false, "zero": false, "reverse": true}, "axis": null}, "text": {"field": "n", "type": "nominal"}}},
    {"data": {"name": "bAll"}, "mark": {"type": "text", "align": "right", "fontSize": 13.8, "fontWeight": "bold"},
     "encoding": {"x": {"datum": 0.6068, "type": "quantitative", "scale": {"domain": [-1.13757, 1.02062], "nice": false, "zero": false}, "axis": null}, "y": {"field": "row", "type": "quantitative", "scale": {"domain": [-4.2633, 23.6369], "nice": false, "zero": false, "reverse": true}, "axis": null}, "text": {"field": "est", "type": "quantitative", "format": ".2f"}}},
    {"data": {"name": "bAll"}, "transform": [{"calculate": "'[' + format(datum.lo, ' .2f') + '; ' + format(datum.hi, '.2f') + ']'", "as": "ci"}], "mark": {"type": "text", "align": "right", "fontSize": 13.8, "fontWeight": "bold"},
     "encoding": {"x": {"datum": 0.8681, "type": "quantitative", "scale": {"domain": [-1.13757, 1.02062], "nice": false, "zero": false}, "axis": null}, "y": {"field": "row", "type": "quantitative", "scale": {"domain": [-4.2633, 23.6369], "nice": false, "zero": false, "reverse": true}, "axis": null}, "text": {"field": "ci"}}},
    {"data": {"name": "bAll"}, "transform": [{"calculate": "format(datum.w, '.1f') + '%'", "as": "wl"}], "mark": {"type": "text", "align": "right", "fontSize": 13.2, "fontWeight": "bold"},
     "encoding": {"x": {"datum": 1.0093, "type": "quantitative", "scale": {"domain": [-1.13757, 1.02062], "nice": false, "zero": false}, "axis": null}, "y": {"field": "row", "type": "quantitative", "scale": {"domain": [-4.2633, 23.6369], "nice": false, "zero": false, "reverse": true}, "axis": null}, "text": {"field": "wl"}}},
    {"data": {"name": "bHet"}, "mark": {"type": "text", "align": "left", "fontSize": 13},
     "encoding": {"x": {"datum": -1.1093, "type": "quantitative", "scale": {"domain": [-1.13757, 1.02062], "nice": false, "zero": false}, "axis": null}, "y": {"field": "row", "type": "quantitative", "scale": {"domain": [-4.2633, 23.6369], "nice": false, "zero": false, "reverse": true}, "axis": null}, "text": {"field": "t"}}}
  ]
}
]
}
